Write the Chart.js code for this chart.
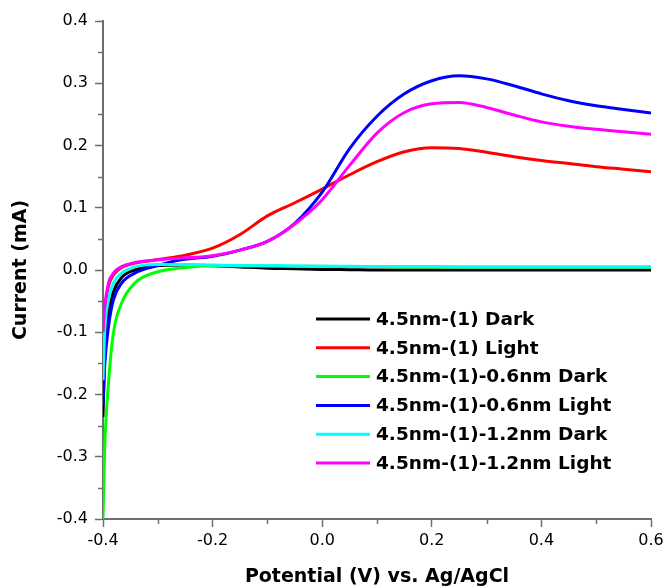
<!DOCTYPE html>
<html>
<head>
<meta charset="utf-8">
<script src="https://cdn.jsdelivr.net/npm/chart.js@4.4.1/dist/chart.umd.min.js"></script>
<style>
  html, body { margin: 0; padding: 0; background: #fff; }
  #wrap { width: 664px; height: 588px; position: relative; }
</style>
</head>
<body>
<div id="wrap"><canvas id="cv"></canvas></div>
<script>
// Potential (V) sampled denser near -0.4 where curves rise steeply
const potential = [-0.4, -0.397, -0.39, -0.381, -0.366, -0.342, -0.305, -0.26, -0.2, -0.15, -0.1, -0.05,
    0, 0.05, 0.1, 0.15, 0.2, 0.25, 0.3, 0.35, 0.4, 0.45, 0.5, 0.55, 0.6];

const dark1 = [-0.236, -0.14, -0.07, -0.035, -0.012, 0.000, 0.007, 0.008, 0.007, 0.005, 0.003, 0.002,
    0.001, 0.0005, 0, 0, 0, 0, 0, 0, 0, 0, 0, 0, 0];
const light1 = [-0.1, -0.065, -0.026, -0.008, 0.004, 0.011, 0.016, 0.022, 0.035, 0.057, 0.087, 0.108,
    0.13, 0.153, 0.174, 0.19, 0.1965, 0.195, 0.189, 0.182, 0.176, 0.171, 0.166, 0.162, 0.158];
const dark06 = [-0.4, -0.289, -0.182, -0.101, -0.053, -0.021, -0.004, 0.003, 0.007, 0.007, 0.0065, 0.006,
    0.006, 0.0055, 0.0055, 0.005, 0.005, 0.005, 0.005, 0.005, 0.005, 0.005, 0.005, 0.005, 0.005];
const light06 = [-0.217, -0.155, -0.091, -0.048, -0.021, -0.005, 0.006, 0.016, 0.022, 0.032, 0.046, 0.075,
    0.125, 0.195, 0.247, 0.283, 0.304, 0.312, 0.307, 0.296, 0.283, 0.272, 0.264, 0.258, 0.252];
const dark12 = [-0.177, -0.101, -0.048, -0.021, -0.005, 0.005, 0.009, 0.009, 0.008, 0.007, 0.007, 0.0065,
    0.006, 0.006, 0.0055, 0.0055, 0.0055, 0.005, 0.005, 0.005, 0.005, 0.005, 0.005, 0.005, 0.005];
const light12 = [-0.1, -0.06, -0.021, -0.005, 0.0054, 0.012, 0.016, 0.019, 0.023, 0.032, 0.046, 0.074,
    0.113, 0.168, 0.22, 0.253, 0.267, 0.269, 0.261, 0.249, 0.238, 0.231, 0.226, 0.222, 0.218];

const seriesLabels = ["4.5nm-(1) Dark", "4.5nm-(1) Light", "4.5nm-(1)-0.6nm Dark",
    "4.5nm-(1)-0.6nm Light", "4.5nm-(1)-1.2nm Dark", "4.5nm-(1)-1.2nm Light"];
const seriesValues = [dark1, light1, dark06, light06, dark12, light12];
const seriesColors = ["#000000", "#ff0000", "#00ff00", "#0000ff", "#00ffff", "#ff00ff"];

const FONT = "'DejaVu Sans', sans-serif";
const AXIS_GREY = "#6e6e6e";

const toPoints = (ys) => ys.map((y, i) => ({x: potential[i], y: y}));

const fmt = (v) => Math.abs(v) < 1e-9 ? "0.0" : Number(v).toFixed(1);

// minor ticks between the labelled ones, plus the legend box inside the plot
const extrasPlugin = {
    id: "extras",
    afterDraw(chart) {
        const ctx = chart.ctx;
        const xs = chart.scales.x;
        const ys = chart.scales.y;
        const area = chart.chartArea;
        ctx.save();
        ctx.strokeStyle = AXIS_GREY;
        ctx.lineWidth = 1.5;
        ctx.beginPath();
        for (let v = -0.3; v < 0.6; v += 0.2) {
            const px = Math.round(xs.getPixelForValue(v)) + 0.5;
            ctx.moveTo(px, area.bottom);
            ctx.lineTo(px, area.bottom + 5);
        }
        for (let v = -0.35; v < 0.4; v += 0.1) {
            const py = Math.round(ys.getPixelForValue(v)) + 0.5;
            ctx.moveTo(area.left, py);
            ctx.lineTo(area.left - 5, py);
        }
        ctx.stroke();

        // legend
        const lx = area.left + 213;
        const ly = area.top + 298;
        const step = 28.8;
        ctx.font = "bold 18.5px " + FONT;
        ctx.textBaseline = "middle";
        ctx.textAlign = "left";
        seriesLabels.forEach((label, i) => {
            const y = ly + i * step;
            ctx.strokeStyle = seriesColors[i];
            ctx.lineWidth = 3;
            ctx.beginPath();
            ctx.moveTo(lx, y);
            ctx.lineTo(lx + 54, y);
            ctx.stroke();
            ctx.fillStyle = "#000";
            ctx.fillText(label, lx + 60, y + 1);
        });
        ctx.restore();
    }
};

const datasets = seriesLabels.map((label, i) => ({
    label: label,
    data: toPoints(seriesValues[i]),
    borderColor: seriesColors[i],
    backgroundColor: seriesColors[i],
    borderWidth: 3,
    pointRadius: 0,
    fill: false,
    cubicInterpolationMode: "monotone",
    order: seriesLabels.length - i
}));

new Chart(document.getElementById("cv").getContext("2d"), {
    type: "line",
    data: {datasets: datasets},
    options: {
        responsive: true,
        maintainAspectRatio: false,
        animation: false,
        layout: {padding: {top: 21, right: 0, bottom: 0, left: 0}},
        plugins: {
            legend: {display: false},
            tooltip: {enabled: false}
        },
        scales: {
            x: {
                type: "linear",
                min: -0.4,
                max: 0.6,
                afterFit: (scale) => {
                    scale.height = 69;
                    scale.paddingLeft = 0;
                    scale.paddingRight = 13;
                },
                ticks: {
                    stepSize: 0.2,
                    color: "#000",
                    padding: 4,
                    maxRotation: 0,
                    font: {family: FONT, size: 16},
                    callback: (v) => fmt(v)
                },
                grid: {
                    drawOnChartArea: false,
                    drawTicks: true,
                    tickLength: 8,
                    tickColor: AXIS_GREY,
                    tickWidth: 1.5
                },
                border: {display: true, color: AXIS_GREY, width: 2},
                title: {
                    display: true,
                    text: "Potential (V) vs. Ag/AgCl",
                    color: "#000",
                    font: {family: FONT, size: 19, weight: "bold"},
                    padding: {top: 1, bottom: 0}
                }
            },
            y: {
                type: "linear",
                min: -0.4,
                max: 0.4,
                afterFit: (scale) => {
                    scale.width = 103;
                    scale.paddingTop = 0;
                    scale.paddingBottom = 0;
                },
                ticks: {
                    stepSize: 0.1,
                    color: "#000",
                    padding: 7,
                    font: {family: FONT, size: 16},
                    callback: (v) => fmt(v)
                },
                grid: {
                    drawOnChartArea: false,
                    drawTicks: true,
                    tickLength: 8,
                    tickColor: AXIS_GREY,
                    tickWidth: 1.5
                },
                border: {display: true, color: AXIS_GREY, width: 2},
                title: {
                    display: true,
                    text: "Current (mA)",
                    color: "#000",
                    font: {family: FONT, size: 19, weight: "bold"},
                    padding: {top: 10, bottom: 0}
                }
            }
        }
    },
    plugins: [extrasPlugin]
});
</script>
</body>
</html>
